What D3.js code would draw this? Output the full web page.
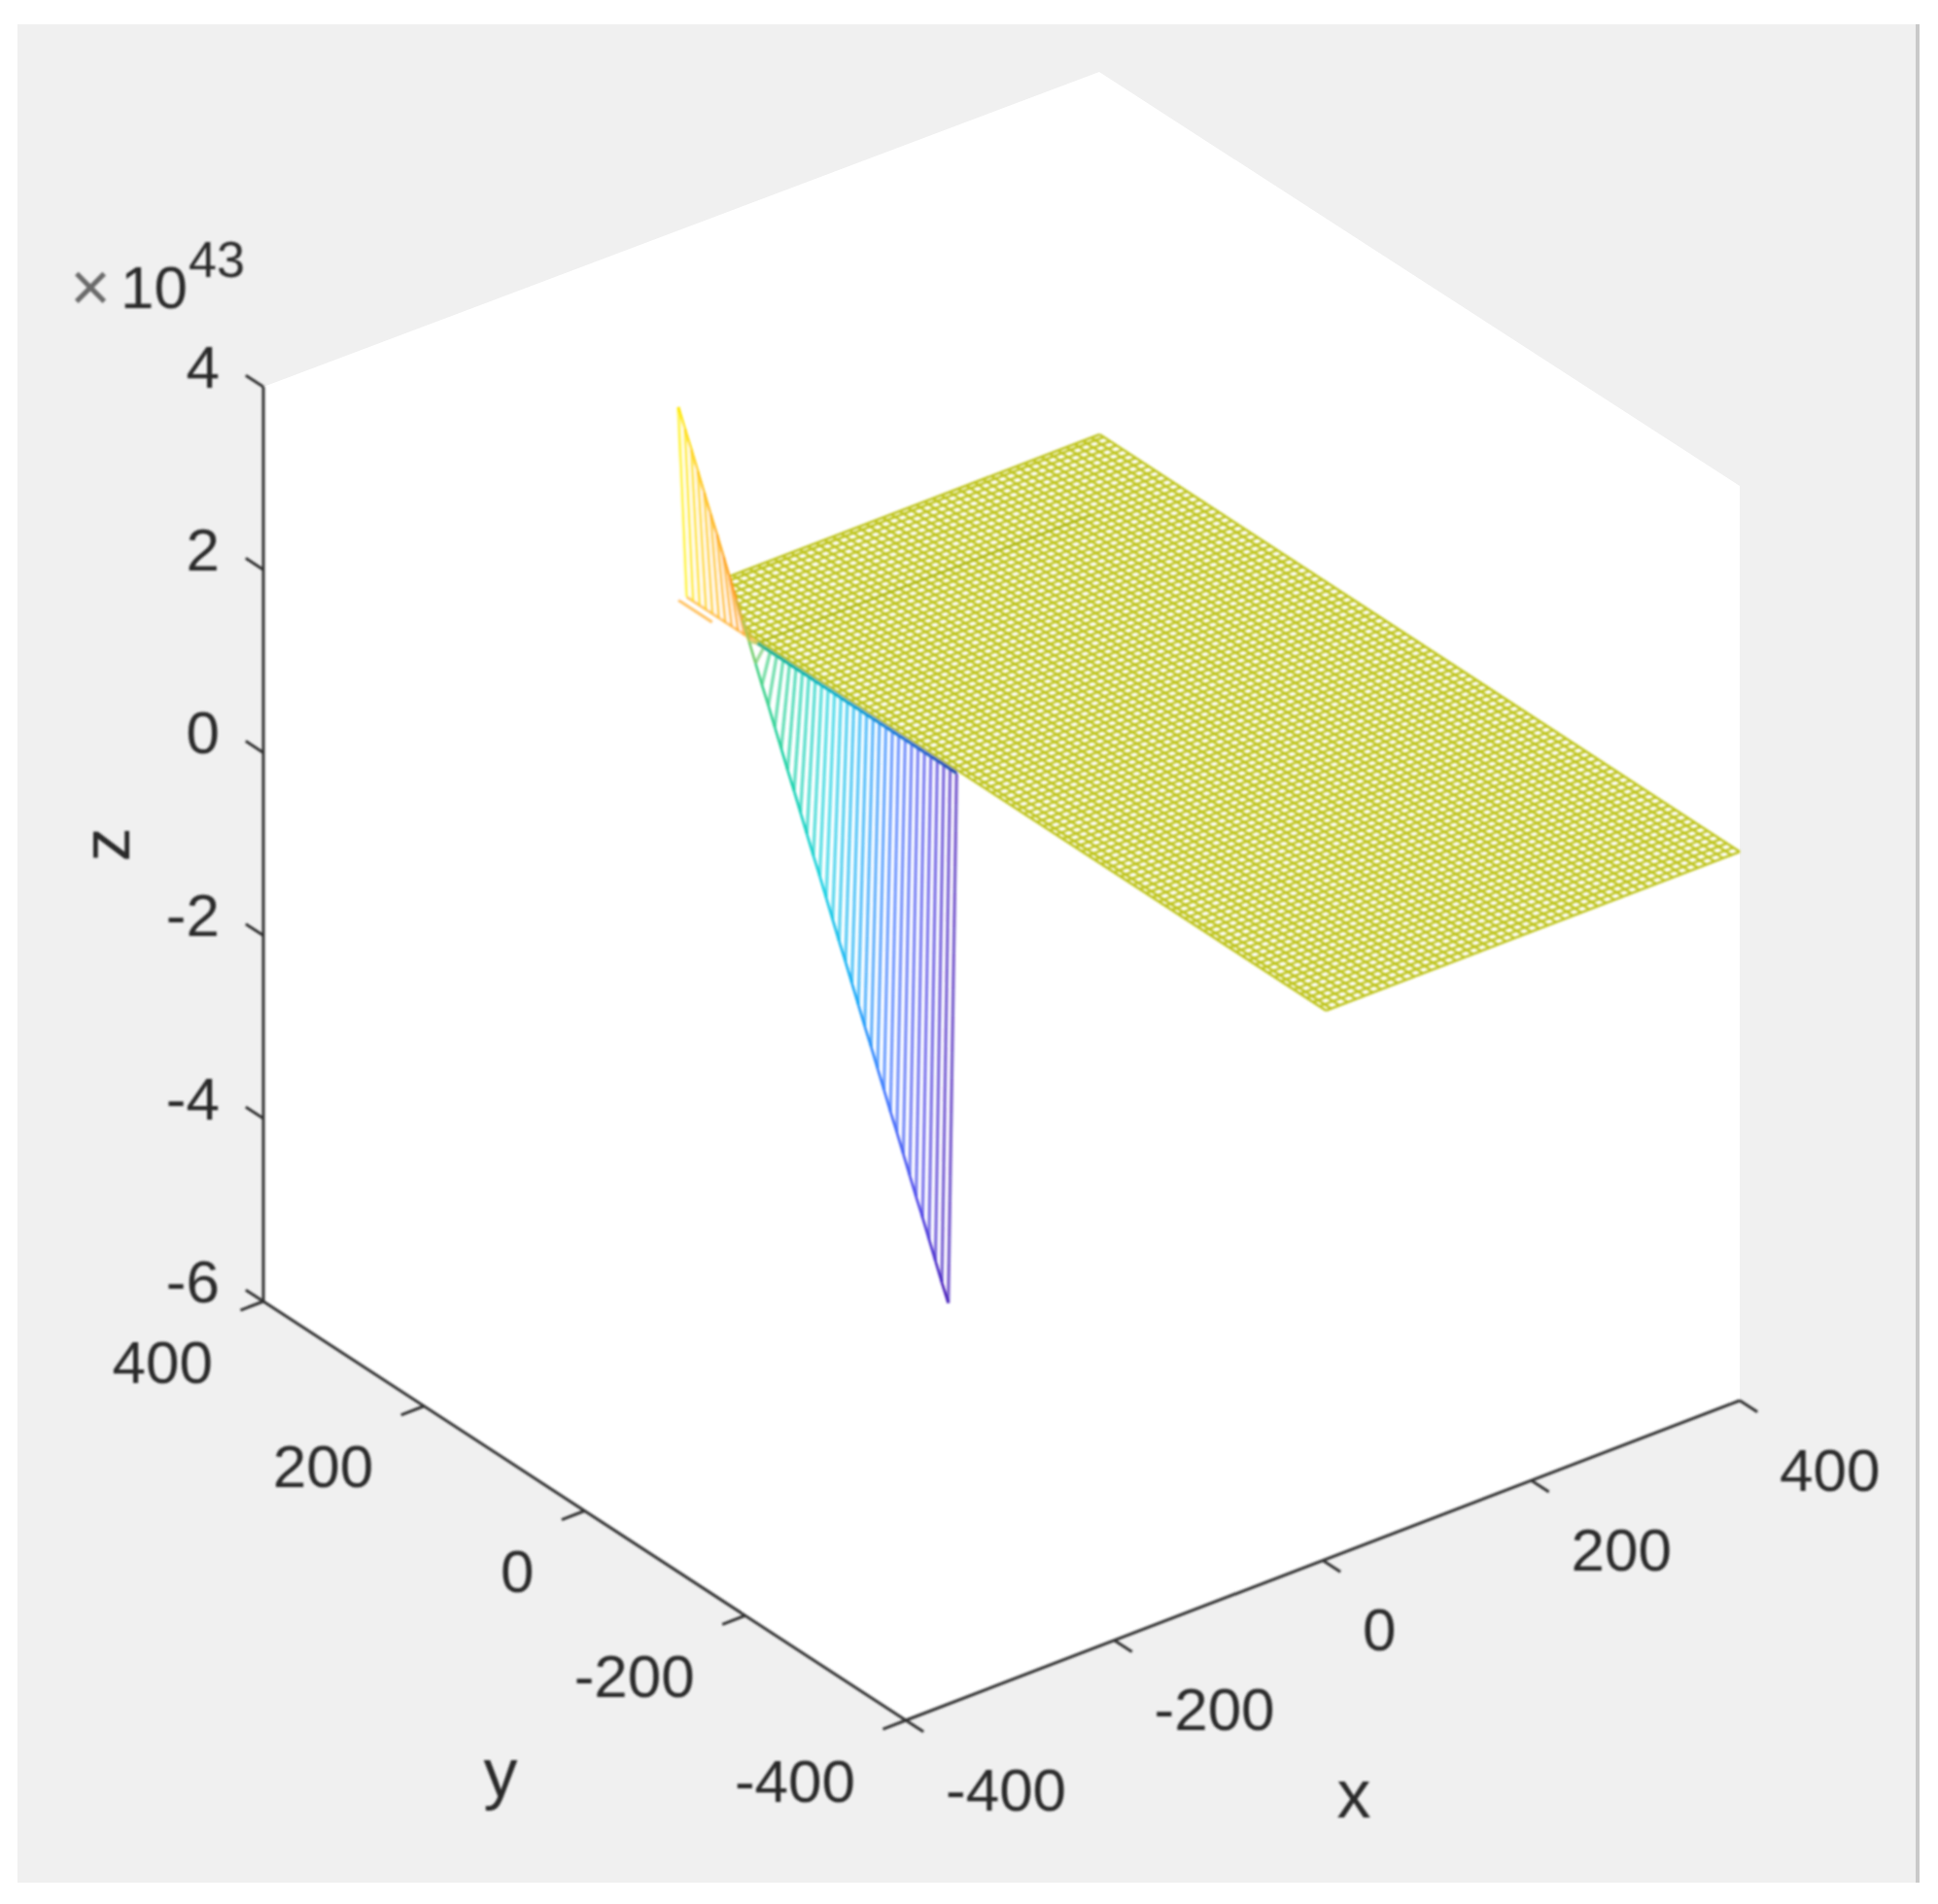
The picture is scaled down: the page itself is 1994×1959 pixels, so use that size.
<!DOCTYPE html>
<html>
<head>
<meta charset="utf-8">
<title>3D mesh</title>
<script src="https://cdn.jsdelivr.net/npm/d3@7/dist/d3.min.js"></script>
<style>
  html, body { margin: 0; padding: 0; background: #fff; }
  text { font-family: "Liberation Sans", Arial, sans-serif; fill: #2a2a2a; }
</style>
</head>
<body>
<div id="chart"></div>
<script>
// axis ticks
var xTicks = [-400, -200, 0, 200, 400];
var yTicks = [-400, -200, 0, 200, 400];
var zTicks = [-6, -4, -2, 0, 2, 4];

// flat part of the surface, z = 0 (units of 10^43)
var meshX = [3, 8, 16, 24, 32, 40, 48, 56, 64, 72, 80, 88, 96, 104, 112, 120, 128, 136, 144, 152, 160, 168, 176, 184, 192, 200,
  208, 216, 224, 232, 240, 248, 256, 264, 272, 280, 288, 296, 304, 312, 320, 328, 336, 344, 352, 360, 368, 376, 384, 392, 400];
var meshY = [-400, -392, -384, -376, -368, -360, -352, -344, -336, -328, -320, -312, -304, -296, -288, -280, -272, -264, -256, -248,
  -240, -232, -224, -216, -208, -200, -192, -184, -176, -168, -160, -152, -144, -136, -128, -120, -112, -104, -96, -88,
  -80, -72, -64, -56, -48, -40, -32, -24, -16, -8, 0, 8, 16, 24, 32, 40, 48, 56, 64, 72, 80, 88, 96, 104, 112, 120, 128, 136, 144, 152,
  160, 168, 176, 184, 192, 200, 208, 216, 224, 232, 240, 248, 256, 264, 272, 280, 288, 296, 304, 312, 320, 328, 336, 344, 352, 360, 368, 376, 384, 392, 397];
var meshZ = 0;

// the spike next to the plane: one row at x = -8, read along the ridge
var ridgeX = -8;
var edgeX = 0;
var ridgeY = [392, 384, 376, 368, 360, 352, 344, 336, 328, 320, 312, 304, 296, 288, 280, 272, 264, 256, 248, 240, 232, 224,
  216, 208, 200, 192, 184, 176, 168, 160, 152, 144, 136, 128, 120, 112, 104, 96, 88, 80, 72, 64, 56];
var ridgeZ = [2.11, 1.92, 1.74, 1.55, 1.36, 1.17, 0.99, 0.8, 0.61, 0.42, 0.24, 0.05, -0.14, -0.33, -0.51, -0.7, -0.89, -1.08, -1.26, -1.45, -1.64, -1.83,
  -2.01, -2.2, -2.39, -2.58, -2.76, -2.95, -3.14, -3.33, -3.51, -3.7, -3.89, -4.08, -4.26, -4.45, -4.64, -4.83, -5.01, -5.2, -5.39, -5.58, -5.76];

// colours along the ridge, by y
var ridgeColorY = [392, 360, 320, 304, 290, 250, 210, 170, 130, 90, 56];
var ridgeColors = ["#fff000", "#ffc818", "#ff9c20", "#b0c850", "#40d080", "#10d0a8", "#10d0e0", "#10a8f8", "#3870ff", "#4840e8", "#4018b8"];

// darker row of the mesh and the short orange foot
var seamY = 304;
var seamX = [3, 320];
var footY = [392, 350];

var width = 1994, height = 1959;
var originX = 932, originY = 1770;

// every axis moves the page point along its own direction
var xToLeft = d3.scaleLinear().domain([-400, 400]).range([0, 858]);
var xToTop = d3.scaleLinear().domain([-400, 400]).range([0, -329]);
var yToLeft = d3.scaleLinear().domain([-400, 400]).range([0, -661]);
var yToTop = d3.scaleLinear().domain([-400, 400]).range([0, -431]);
var zToTop = d3.scaleLinear().domain([-6, 4]).range([0, -941]);

function project(x, y, z) {
  return [originX + xToLeft(x) + yToLeft(y), originY + xToTop(x) + yToTop(y) + zToTop(z)];
}

var ridgeColor = d3.scaleLinear().domain(ridgeColorY).range(ridgeColors);

var line = d3.line();

var svg = d3.select("#chart")
  .append("svg")
  .attr("width", width)
  .attr("height", height)
  .style("display", "block");

// the source is a resampled screenshot, so everything is a little soft
var defs = svg.append("defs");
defs.append("filter").attr("id", "soft")
  .append("feGaussianBlur").attr("stdDeviation", 0.8);
defs.append("filter").attr("id", "softer")
  .append("feGaussianBlur").attr("stdDeviation", 1.3);

// figure background
svg.append("rect")
  .attr("x", 18).attr("y", 25)
  .attr("width", 1953).attr("height", 1912)
  .attr("fill", "#f0f0f0");
svg.append("rect")
  .attr("x", 1971).attr("y", 25)
  .attr("width", 4).attr("height", 1912)
  .attr("fill", "#c9c9c9");

// white box behind the data, the top corner sits a bit lower in the source
var lo = -400, hi = 400;
var boxTop = project(hi, hi, 4);
var box = [
  project(lo, lo, -6), project(hi, lo, -6), project(hi, lo, 4),
  [boxTop[0] + 2, boxTop[1] + 5], project(lo, hi, 4), project(lo, hi, -6)
];
svg.append("path")
  .attr("d", line(box) + "Z")
  .attr("fill", "#ffffff");

var plot = svg.append("g").attr("filter", "url(#softer)");

// mesh lines along y, then along x
plot.selectAll(".mesh-x")
  .data(meshX)
  .enter()
  .append("path")
  .attr("class", "mesh-x")
  .attr("d", function(x) { return line([project(x, meshY[0], meshZ), project(x, meshY[meshY.length - 1], meshZ)]); })
  .attr("fill", "none")
  .attr("stroke", "#bfc520")
  .attr("stroke-width", 2.6);

plot.selectAll(".mesh-y")
  .data(meshY)
  .enter()
  .append("path")
  .attr("class", "mesh-y")
  .attr("d", function(y) { return line([project(meshX[0], y, meshZ), project(meshX[meshX.length - 1], y, meshZ)]); })
  .attr("fill", "none")
  .attr("stroke", "#bfc520")
  .attr("stroke-width", 2.6);

plot.append("path")
  .attr("d", line(seamX.map(function(x) { return project(x, seamY, meshZ); })))
  .attr("fill", "none")
  .attr("stroke", "#b0ba18")
  .attr("stroke-width", 2.5);

// mesh faces are opaque white: the part above z = 0 hides the plane corner behind it
var upperRows = ridgeY.filter(function(y) { return y >= seamY; });
var upperFace = upperRows.map(function(y, i) { return project(ridgeX, y, ridgeZ[i]); })
  .concat(upperRows.slice().reverse().map(function(y) { return project(edgeX, y, meshZ); }))
  .concat([project(ridgeX, upperRows[0], meshZ)]);
plot.append("path")
  .attr("d", line(upperFace) + "Z")
  .attr("fill", "#ffffff");

// foot of the yellow part, and its lower edge
plot.append("path")
  .attr("d", line(footY.map(function(y) { return project(ridgeX, y, meshZ); })))
  .attr("fill", "none")
  .attr("stroke", "#ffc468")
  .attr("stroke-width", 3);
plot.append("path")
  .attr("d", line([project(edgeX, upperRows[0], meshZ), project(edgeX, seamY, meshZ)]))
  .attr("fill", "none")
  .attr("stroke", "#ffc870")
  .attr("stroke-width", 3);

// stripes from the plane edge down (or up) to the ridge
plot.selectAll(".stripe")
  .data(ridgeY)
  .enter()
  .append("path")
  .attr("class", "stripe")
  .attr("d", function(y, i) { return line([project(edgeX, y, meshZ), project(ridgeX, y, ridgeZ[i])]); })
  .attr("fill", "none")
  .attr("stroke", function(y) { return ridgeColor(y); })
  .attr("stroke-opacity", 0.68)
  .attr("stroke-width", 3.4);

// ridge itself, one piece per pair of rows
plot.selectAll(".ridge")
  .data(ridgeY.slice(1))
  .enter()
  .append("path")
  .attr("class", "ridge")
  .attr("d", function(y, i) { return line([project(ridgeX, ridgeY[i], ridgeZ[i]), project(ridgeX, y, ridgeZ[i + 1])]); })
  .attr("fill", "none")
  .attr("stroke", function(y) { return ridgeColor(y); })
  .attr("stroke-width", 2.6);

// row along the plane edge, only below z = 0
var edgeRows = ridgeY.filter(function(y) { return y <= seamY; });
plot.selectAll(".edge")
  .data(edgeRows.slice(1))
  .enter()
  .append("path")
  .attr("class", "edge")
  .attr("d", function(y, i) { return line([project(edgeX, edgeRows[i], meshZ), project(edgeX, y, meshZ)]); })
  .attr("fill", "none")
  .attr("stroke", function(y) { return d3.interpolateRgb(ridgeColor(y), "#0090a8")(0.45); })
  .attr("stroke-width", 3.6);

var ink = svg.append("g").attr("filter", "url(#soft)");

// axis lines
function axisLine(a, b) {
  ink.append("path")
    .attr("d", line([a, b]))
    .attr("fill", "none")
    .attr("stroke", "#333333")
    .attr("stroke-width", 3);
}
axisLine(project(lo, hi, -6), project(lo, hi, 4));
axisLine(project(lo, hi, -6), project(lo, lo, -6));
axisLine(project(lo, lo, -6), project(hi, lo, -6));

// tick marks point along the neighbouring axis
var tickLen = 22;
xTicks.forEach(function(x) {
  var p = project(x, lo, -6);
  var q = project(x, lo - tickLen, -6);
  axisLine(p, q);
});
yTicks.forEach(function(y) {
  var p = project(lo, y, -6);
  var q = project(lo - tickLen, y, -6);
  axisLine(p, q);
});
zTicks.forEach(function(z) {
  var p = project(lo, hi, z);
  var q = project(lo, hi + tickLen, z);
  axisLine(p, q);
});

// tick labels
var fontSize = 62;
var labels = svg.append("g").attr("filter", "url(#soft)").attr("font-size", fontSize);

labels.selectAll(".x-label")
  .data(xTicks)
  .enter()
  .append("text")
  .attr("class", "x-label")
  .attr("x", function(d) { return project(d, lo, -6)[0] + 41; })
  .attr("y", function(d) { return project(d, lo, -6)[1] + 71; })
  .attr("dy", "0.35em")
  .text(function(d) { return d; });

labels.selectAll(".y-label")
  .data(yTicks)
  .enter()
  .append("text")
  .attr("class", "y-label")
  .attr("text-anchor", "end")
  .attr("x", function(d) { return project(lo, d, -6)[0] - 52; })
  .attr("y", function(d) { return project(lo, d, -6)[1] + 62; })
  .attr("dy", "0.35em")
  .text(function(d) { return d; });

labels.selectAll(".z-label")
  .data(zTicks)
  .enter()
  .append("text")
  .attr("class", "z-label")
  .attr("text-anchor", "end")
  .attr("x", function(d) { return project(lo, hi, d)[0] - 45; })
  .attr("y", function(d) { return project(lo, hi, d)[1] - 21; })
  .attr("dy", "0.35em")
  .text(function(d) { return d; });

// axis names
labels.append("text").attr("x", 1393).attr("y", 1845).attr("font-size", 70).attr("text-anchor", "middle").attr("dy", "0.35em").text("x");
labels.append("text").attr("x", 515).attr("y", 1823).attr("font-size", 70).attr("text-anchor", "middle").attr("dy", "0.35em").text("y");
labels.append("text")
  .attr("transform", "translate(108,869) rotate(-90)")
  .attr("font-size", 70)
  .attr("text-anchor", "middle")
  .attr("dy", "0.35em")
  .text("z");

// exponent
labels.append("text").attr("x", 72).attr("y", 320).attr("font-size", 72).style("fill", "#6a6a6a").text("\u00d7");
labels.append("text").attr("x", 124).attr("y", 317).text("10");
labels.append("text").attr("x", 194).attr("y", 285).attr("font-size", 52).text("43");
</script>
</body>
</html>
